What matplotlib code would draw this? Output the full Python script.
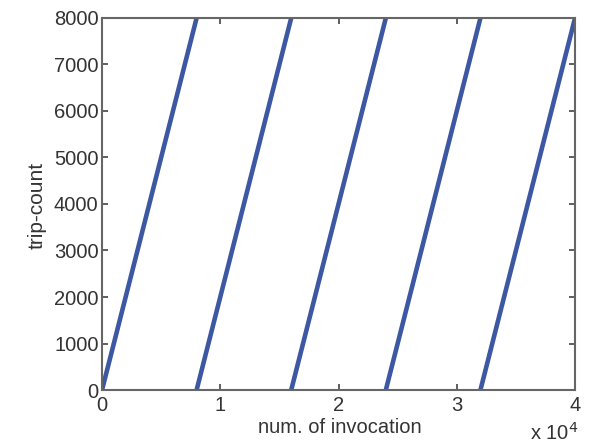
import matplotlib.pyplot as plt
from matplotlib.ticker import FuncFormatter

plt.rcParams['font.family'] = ['Liberation Sans', 'DejaVu Sans']

# each ramp: trip-count goes 0 -> 8000 over 8000 invocations, then restarts
ramp_starts = [0, 8000, 16000, 24000, 32000]
ramp_lengths = [8000, 8000, 8000, 8000, 8000]
ramp_peaks = [8000, 8000, 8000, 8000, 8000]

x_ticks = [0, 10000, 20000, 30000, 40000]
y_ticks = [0, 1000, 2000, 3000, 4000, 5000, 6000, 7000, 8000]

fig = plt.figure(figsize=(5.91, 4.44), dpi=100)
ax = fig.add_axes([0.1726, 0.1216, 0.8004, 0.8379])

for s, n, p in zip(ramp_starts, ramp_lengths, ramp_peaks):
    ax.plot([s, s + n], [0, p], color='#3d58a3', lw=3.3, solid_capstyle='butt')

ax.set_xlim(0, 40000)
ax.set_ylim(0, 8000)
ax.set_xticks(x_ticks)
ax.set_yticks(y_ticks)
ax.xaxis.set_major_formatter(FuncFormatter(lambda v, p: '%d' % round(v / 10000)))

for sp in ax.spines.values():
    sp.set_color('#666666')
    sp.set_linewidth(1.5)
ax.tick_params(direction='in', length=4, width=1.2, color='#444444',
               top=True, right=True, labelsize=14.5, labelcolor='#333333')
ax.tick_params(axis='x', pad=4)
ax.tick_params(axis='y', pad=2.5)

ax.set_xlabel('num. of invocation', fontsize=14.5, color='#333333')
ax.xaxis.set_label_coords(0.502, -0.075)
ax.set_ylabel('trip-count', fontsize=15, color='#333333')
ax.yaxis.set_label_coords(-0.118, 0.497)
ax.text(0.905, -0.115, r'x 10$^4$', transform=ax.transAxes, fontsize=14.5,
        color='#333333', ha='left', va='center')

plt.savefig('out.png', dpi=100)
